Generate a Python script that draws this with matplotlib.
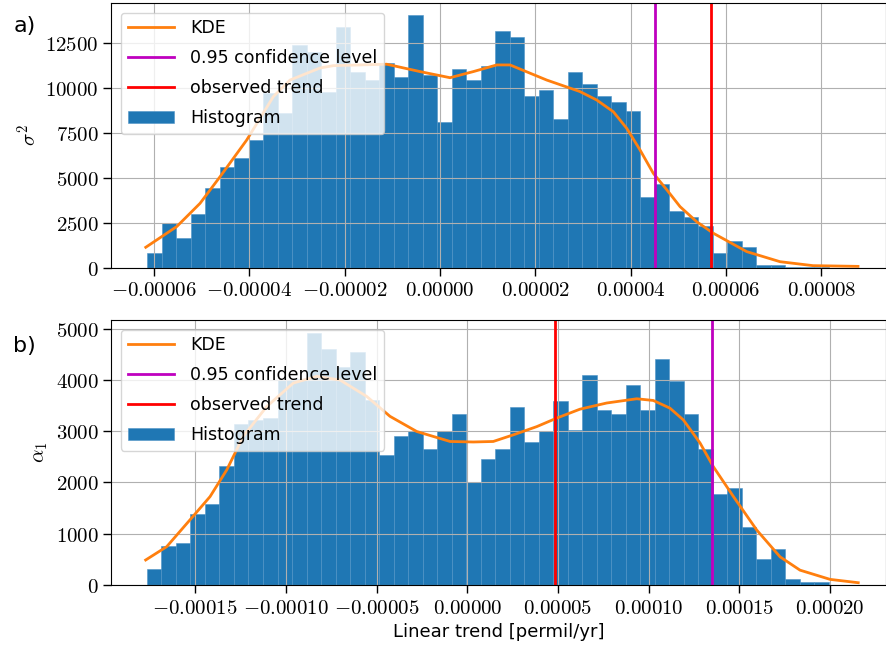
import numpy as np
import matplotlib
matplotlib.use('Agg')
import matplotlib.pyplot as plt

plt.rcParams['mathtext.fontset'] = 'cm'

# a) sigma^2 : histogram range, counts per bin, KDE curve (x in 1e-5 permil/yr)
a_range = (-6.149e-5, 8.772e-5)
a_counts = [850, 2480, 1685, 2980, 4460, 5630, 6130, 7100, 9740, 8590,
            12390, 12020, 9800, 13370, 10900, 10440, 11370, 10590, 14055, 10720,
            8090, 11050, 10440, 11220, 13180, 12850, 9570, 9890, 8280, 10900,
            10220, 9570, 9240, 8740, 3960, 4650, 3170, 2810, 2330, 850,
            1520, 1190, 170, 170, 60, 60, 60, 8, 4]
a_kde_x = [-6.176, -5.526, -5.037, -4.617, -4.057, -3.498, -3.148, -2.518, -2.239,
           -1.119, -0.420, 0.210, 0.699, 1.190, 1.469, 2.239, 2.938, 3.289, 3.637,
           3.918, 4.197, 4.476, 4.758, 5.037, 5.387, 5.736, 6.437, 7.135, 7.828, 8.772]
a_kde_y = [1150, 2300, 3590, 5070, 7110, 9520, 10440, 11110, 11240,
           11320, 10910, 10570, 10910, 11280, 11280, 10440, 9800, 9330, 8680,
           7760, 6560, 5260, 4350, 3410, 2570, 1930, 910, 350, 130, 90]
a_conf = 4.512e-5
a_obs = 5.681e-5
a_xticks = [-0.00006, -0.00004, -0.00002, 0.0, 0.00002, 0.00004, 0.00006, 0.00008]
a_xlabels = ['$-0.00006$', '$-0.00004$', '$-0.00002$', '$0.00000$',
             '$0.00002$', '$0.00004$', '$0.00006$', '$0.00008$']
a_yticks = [0, 2500, 5000, 7500, 10000, 12500]

# b) alpha_1
b_range = (-1.766e-4, 2.153e-4)
b_counts = [312, 762, 826, 1387, 1582, 2330, 3150, 3210, 3250, 3990,
            4020, 4915, 4600, 4260, 4540, 3600, 2530, 2910, 2995, 2650,
            2995, 3340, 2018, 2460, 2650, 3470, 2780, 2995, 3590, 3030,
            4095, 3405, 3340, 3906, 3405, 4410, 3970, 3340, 2650, 1770,
            1890, 1126, 508, 697, 125, 65, 65, 8, 4]
b_kde_x = [-17.73, -16.57, -15.29, -14.18, -13.26, -12.35, -11.06, -9.59, -8.30,
           -7.02, -5.55, -4.26, -2.79, -0.95, 0.33, 1.43, 2.54, 3.83, 4.93, 6.21,
           7.68, 9.34, 10.25, 11.17, 11.91, 12.83, 13.56, 14.67, 15.96, 17.24,
           18.34, 20.0, 21.55]
b_kde_y = [488, 748, 1270, 1725, 2246, 2900, 3480, 3940, 4070,
           4000, 3680, 3290, 2995, 2800, 2790, 2800, 2930, 3090, 3256, 3430,
           3550, 3633, 3600, 3450, 3220, 2770, 2310, 1725, 1070, 550,
           290, 110, 45]
b_conf = 1.347e-4
b_obs = 4.81e-5
b_xticks = [-0.00015, -0.0001, -0.00005, 0.0, 0.00005, 0.0001, 0.00015, 0.0002]
b_xlabels = ['$-0.00015$', '$-0.00010$', '$-0.00005$', '$0.00000$',
             '$0.00005$', '$0.00010$', '$0.00015$', '$0.00020$']
b_yticks = [0, 1000, 2000, 3000, 4000, 5000]

fig = plt.figure(figsize=(8.86, 6.53), dpi=100)
ax1 = fig.add_axes([0.1253, 0.5896, 0.8747, 0.4058])
ax2 = fig.add_axes([0.1253, 0.1041, 0.8747, 0.4059])


def panel(ax, rng, counts, kx, ky, conf, obs, xt, xl, yt, ylab, xlim, ylim):
    edges = np.linspace(rng[0], rng[1], len(counts) + 1)
    ax.plot(np.array(kx) * 1e-5, ky, color='tab:orange', lw=2, label='KDE')
    ax.axvline(conf, color='m', lw=2, label='0.95 confidence level')
    ax.axvline(obs, color='r', lw=2, label='observed trend')
    ax.bar(edges[:-1], counts, width=np.diff(edges), align='edge',
           color='#1f77b4', edgecolor='#4f93c6', linewidth=0.4, label='Histogram')
    ax.set_xticks(xt, labels=xl)
    ax.set_yticks(yt, labels=['$%d$' % v for v in yt])
    ax.set_xlim(*xlim)
    ax.set_ylim(*ylim)
    ax.tick_params(labelsize=15, length=5.5, width=1)
    ax.grid(True)
    ax.set_ylabel(ylab, fontsize=15)
    ax.legend(loc='upper left', fontsize=12.5, handlelength=2.7, handletextpad=0.9,
              labelspacing=0.68, borderaxespad=0.55)


panel(ax1, a_range, a_counts, a_kde_x, a_kde_y, a_conf, a_obs,
      a_xticks, a_xlabels, a_yticks, r'$\sigma^2$', (-6.905e-5, 9.36e-5), (0, 14720))
panel(ax2, b_range, b_counts, b_kde_x, b_kde_y, b_conf, b_obs,
      b_xticks, b_xlabels, b_yticks, r'$\alpha_1$', (-1.964e-4, 2.308e-4), (0, 5170))
ax2.set_xlabel('Linear trend [permil/yr]', fontsize=13)

fig.text(0.015, 1 - 26 / 653, 'a)', fontsize=16, va='center')
fig.text(0.015, 1 - 346 / 653, 'b)', fontsize=16, va='center')

fig.savefig('out.png', dpi=100)
